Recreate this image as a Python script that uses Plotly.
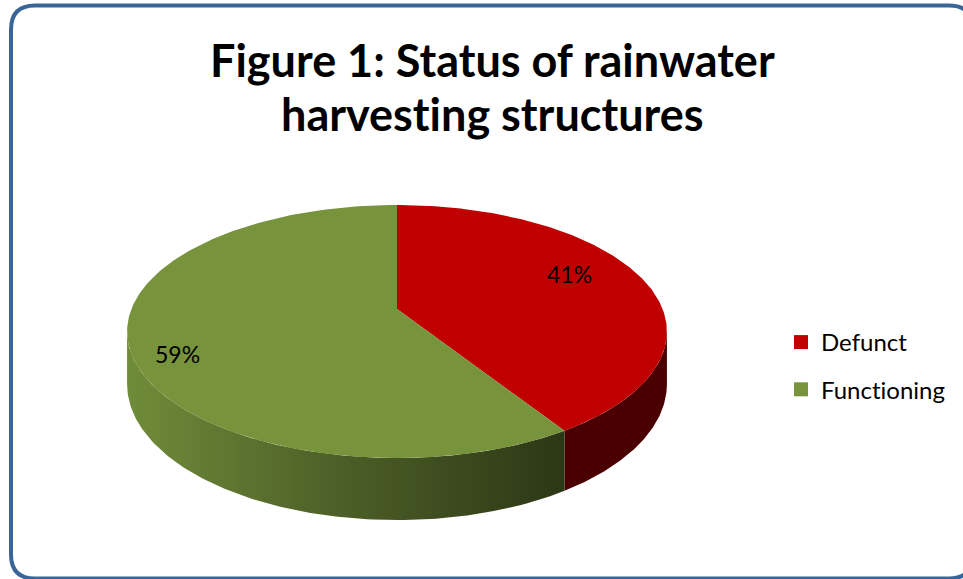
import math
import numpy as np
import plotly.graph_objects as go

# ---- data ----
labels = ["Defunct", "Functioning"]
values = [41, 59]
top_colors = ["#C00000", "#77933C"]
title_lines = ["Figure 1: Status of rainwater", "harvesting structures"]

# ---- geometry of the tilted (perspective) pie, in pixel space ----
W, H = 963, 579
CX, A = 397.0, 265.6          # centre x, horizontal radius
K, P, Q = -0.178, 67.5, 309.0  # perspective terms
D = 51.0                       # thickness
LABEL_R = [0.75, 0.85]
LABEL_SHIFT = -7.7
TITLE_Y = [60, 114]
NOLIG = '<span style="font-variant-ligatures:none">{}</span>'


def proj(theta_deg, r=1.0, drop=0.0):
    t = np.radians(theta_deg)
    u = r * np.sin(t)
    v = -r * np.cos(t)
    den = 1 + K * v
    return CX + A * u / den, (P * v + Q) / den + drop / den


total = float(sum(values))
starts, ends = [], []
acc = 0.0
for v in values:
    starts.append(acc / total * 360)
    acc += v
    ends.append(acc / total * 360)

sil_r = math.degrees(math.acos(K))
sil_l = 360 - sil_r

fig = go.Figure()

# sides
side_fill = [
    dict(fillcolor="#4a0000"),
    dict(fillgradient=dict(type="horizontal",
                           colorscale=[[0, "#6f8c39"], [0.45, "#4f6229"], [1, "#2c3715"]])),
]
for i in range(len(values)):
    a0 = max(starts[i], sil_r)
    a1 = min(ends[i], sil_l)
    if a1 <= a0:
        continue
    th = np.linspace(a0, a1, 120)
    xt, yt = proj(th)
    xb, yb = proj(th[::-1], drop=D)
    xs = np.concatenate([xt, xb, xt[:1]])
    ys = np.concatenate([yt, yb, yt[:1]])
    fig.add_trace(go.Scatter(x=xs, y=ys, mode="lines", fill="toself",
                             line=dict(width=0), hoverinfo="skip",
                             showlegend=False, **side_fill[i]))

# top faces
for i in range(len(values)):
    th = np.linspace(starts[i], ends[i], 200)
    xa, ya = proj(th)
    cx0, cy0 = proj(np.array([0.0]), r=0.0)
    xs = np.concatenate([cx0, xa, cx0])
    ys = np.concatenate([cy0, ya, cy0])
    fig.add_trace(go.Scatter(x=xs, y=ys, mode="lines", fill="toself",
                             fillcolor=top_colors[i], line=dict(width=0),
                             hoverinfo="skip", showlegend=False))

# percentage labels
for i in range(len(values)):
    mid = (starts[i] + ends[i]) / 2 + LABEL_SHIFT
    lx, ly = proj(np.array([mid]), r=LABEL_R[i])
    fig.add_annotation(x=float(lx[0]), y=float(ly[0]), xref="x", yref="y",
                       text=f"{values[i] / total * 100:.0f}%", showarrow=False,
                       font=dict(family="Lato", size=23, color="#000000"))

# legend entries
for i in range(len(values)):
    fig.add_trace(go.Scatter(x=[None], y=[None], mode="markers",
                             name=NOLIG.format(labels[i]),
                             marker=dict(symbol="square", size=14, color=top_colors[i]),
                             legendgroup=labels[i]))

# title (two lines)
for t, ty in zip(title_lines, TITLE_Y):
    fig.add_annotation(x=492, y=ty, xref="x", yref="y", yanchor="middle",
                       text="<b>" + NOLIG.format(t) + "</b>", showarrow=False,
                       font=dict(family="Lato", size=45, color="#000000"))

# rounded border
x0, y0, x1, y1, rr = 11, 5.5, 973, 578.5, 24
path = (f"M{x0 + rr},{y0} L{x1 - rr},{y0} Q{x1},{y0} {x1},{y0 + rr} "
        f"L{x1},{y1 - rr} Q{x1},{y1} {x1 - rr},{y1} L{x0 + rr},{y1} "
        f"Q{x0},{y1} {x0},{y1 - rr} L{x0},{y0 + rr} Q{x0},{y0} {x0 + rr},{y0} Z")
fig.add_shape(type="path", path=path, xref="x", yref="y",
              line=dict(color="#3A6598", width=4), layer="above")

fig.update_layout(
    width=W, height=H,
    margin=dict(l=0, r=0, t=0, b=0),
    paper_bgcolor="white", plot_bgcolor="white",
    xaxis=dict(range=[0, W], visible=False, fixedrange=True),
    yaxis=dict(range=[H, 0], visible=False, fixedrange=True),
    legend=dict(x=781 / W, y=1 - 320 / H, xanchor="left", yanchor="top",
                font=dict(family="Lato", size=24, color="#000000"),
                tracegroupgap=13, itemwidth=30, bgcolor="rgba(0,0,0,0)"),
    showlegend=True,
)

fig.write_html("out.html", config={"displayModeBar": False},
               post_script="document.body.style.margin='0';document.body.style.overflow='hidden';")
